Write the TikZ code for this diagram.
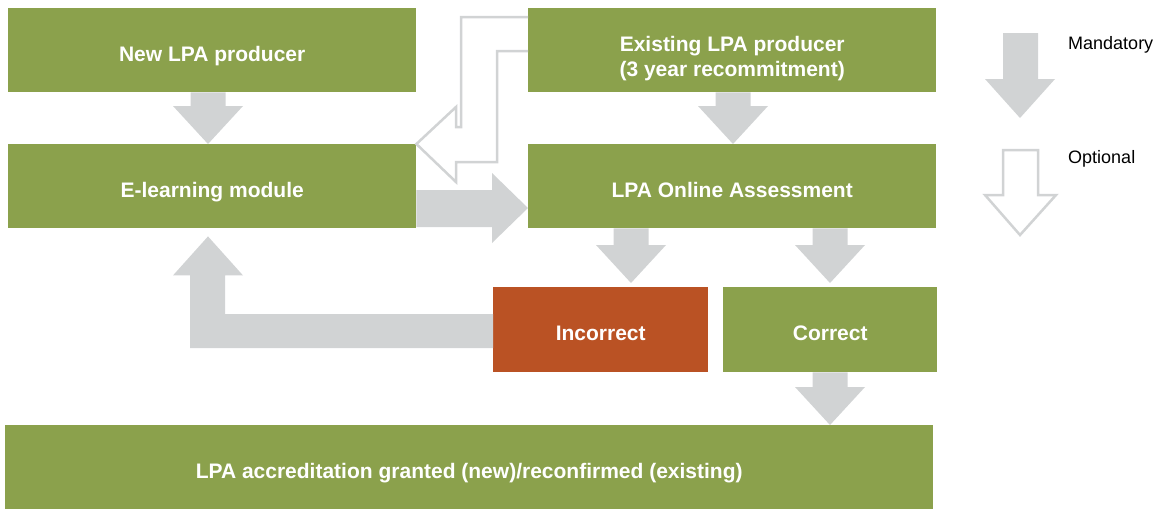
\documentclass[tikz,border=0pt]{standalone}
\usepackage{fontspec}
\setmainfont{Liberation Sans}
\usetikzlibrary{calc}
\definecolor{lgreen}{HTML}{8BA14C}
\definecolor{lorange}{HTML}{BA5224}
\definecolor{lgray}{HTML}{D1D3D4}
\tikzset{
  box/.style={fill=lgreen, text=white, font=\bfseries\fontsize{21}{25}\selectfont,
    align=center, inner sep=0pt, minimum height=84pt, anchor=north west,
    text height=22pt, text depth=0pt},
  mand/.style={fill=lgray},
  opt/.style={draw=lgray, line width=2.5pt, line join=miter},
  legend/.style={font=\fontsize{18}{22}\selectfont, inner sep=0pt, anchor=base west}
}
\newcommand\blockdown[4]{%
  \fill[mand] let \p1=(#1.south), \p2=(#2.north) in
    ({#3pt-17.5pt},\y1) -- ({#3pt+17.5pt},\y1) -- ({#3pt+17.5pt},\y2+#4pt+38pt)
    -- ({#3pt+35pt},\y2+#4pt+38pt) -- (#3pt,\y2+#4pt) -- ({#3pt-35pt},\y2+#4pt+38pt)
    -- ({#3pt-17.5pt},\y2+#4pt+38pt) -- cycle;}
\begin{document}
\begin{tikzpicture}[x=1pt,y=-1pt]
\useasboundingbox (0,0) rectangle (1166,509);
% boxes
\node[box, minimum width=408pt] (new) at (8,8) {New LPA producer};
\node[box, minimum width=408pt, text height=53pt, text depth=0pt] (exist) at (528,8) {Existing LPA producer\\(3 year recommitment)};
\node[box, minimum width=408pt] (elearn) at (8,144) {E-learning module};
\node[box, minimum width=408pt] (online) at (528,144) {LPA Online Assessment};
\node[box, fill=lorange, minimum width=215pt, minimum height=85pt] (incorrect) at (493,287) {Incorrect};
\node[box, minimum width=214pt, minimum height=85pt] (correct) at (723,287) {Correct};
\node[box, minimum width=928pt] (accr) at (5,425) {LPA accreditation granted (new)/reconfirmed (existing)};
% mandatory arrows
\blockdown{new}{elearn}{208}{0}
\blockdown{exist}{online}{733}{0}
\blockdown{online}{incorrect}{631}{4}
\blockdown{online}{correct}{830}{4}
\blockdown{correct}{accr}{830}{0}
\fill[mand] let \p1=(elearn.east), \p2=(online.west) in
  (\x1,-190pt) -- (\x2-36pt,-190pt) -- (\x2-36pt,-173pt) -- (\x2,-208pt)
  -- (\x2-36pt,-243pt) -- (\x2-36pt,-227pt) -- (\x1,-227pt) -- cycle;
\fill[mand] let \p1=(incorrect.west), \p2=(elearn.south) in
  (\x1,-314pt) -- (225pt,-314pt) -- (225pt,\y2-47pt) -- (243pt,\y2-47pt)
  -- (208pt,\y2-8pt) -- (173pt,\y2-47pt) -- (190pt,\y2-47pt) -- (190pt,-348pt)
  -- (\x1,-348pt) -- cycle;
% optional arrow
\draw[opt] let \p1=(exist.west), \p2=(elearn.north east) in
  (\x1,-17pt) -- (461pt,-17pt) -- (461pt,-127pt) -- (456pt,-127pt) -- (456pt,-107pt)
  -- (\p2) -- (456pt,-182pt) -- (456pt,-162pt) -- (497pt,-162pt) -- (497pt,-51pt)
  -- (\x1,-51pt);
% legend
\fill[mand] (1003,33) -- (1038,33) -- (1038,79) -- (1055,79) -- (1020,118) -- (985,79) -- (1003,79) -- cycle;
\draw[opt] (1003,150) -- (1038,150) -- (1038,195) -- (1056,195) -- (1020,235) -- (985,195) -- (1003,195) -- cycle;
\node[legend] (lmand) at (1068,49.5) {Mandatory};
\node[legend] (lopt) at (1068,163) {Optional};
\end{tikzpicture}
\end{document}
